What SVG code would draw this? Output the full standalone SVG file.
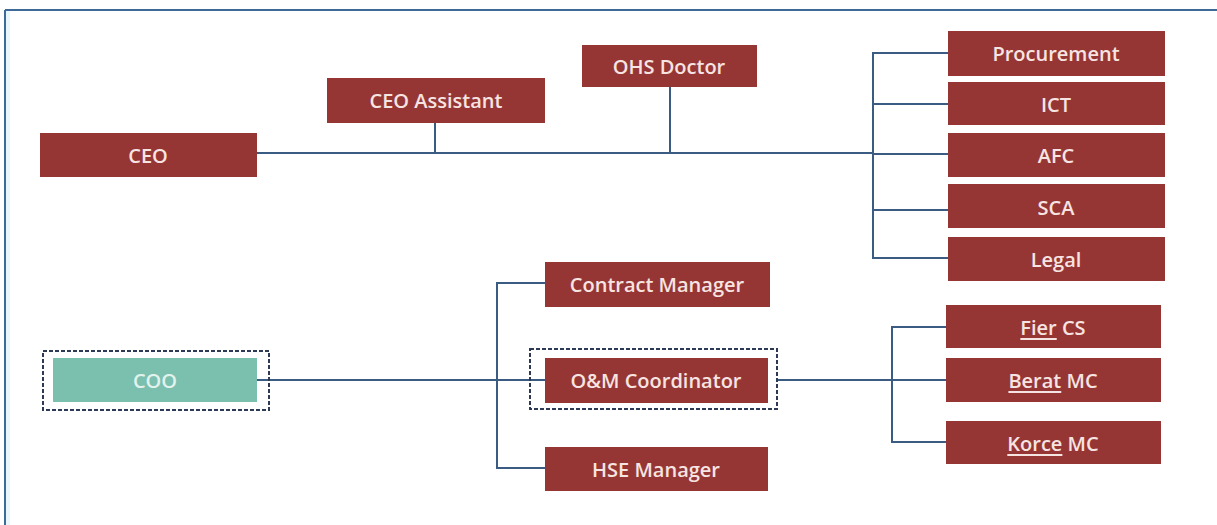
<svg xmlns="http://www.w3.org/2000/svg" width="1217" height="525" viewBox="0 0 1217 525">
<style>
.box{fill:#963634;}
.lbl{font-family:"Open Sans","Liberation Sans",sans-serif;font-size:20px;font-weight:600;fill:#f6e4e2;text-anchor:middle;dominant-baseline:central;}
.coo{fill:#7bbfae;}
.lblc{font-family:"Open Sans","Liberation Sans",sans-serif;font-size:20px;font-weight:600;fill:#e2f3ee;text-anchor:middle;dominant-baseline:central;}
.dash{fill:none;stroke:#2c3a55;stroke-width:2;stroke-dasharray:4 2;}
.conn{fill:none;stroke:#3b5c82;stroke-width:2;}
.u{text-decoration:underline;}
</style>
<rect x="0" y="0" width="1217" height="525" fill="#ffffff"/>
<g id="frame">
<line x1="5" y1="10" x2="1217" y2="10" stroke="#3d6a96" stroke-width="2"/>
<line x1="5" y1="10" x2="5" y2="525" stroke="#3d6a96" stroke-width="2"/>
<rect x="6" y="11" width="4" height="514" fill="#e6f8fc"/>
</g>
<g id="connectors">
<polyline class="conn" points="257,153 873,153"/>
<line class="conn" x1="435" y1="123" x2="435" y2="153"/>
<line class="conn" x1="670" y1="87" x2="670" y2="153"/>
<polyline class="conn" points="948,53 873,53 873,258 948,258"/>
<line class="conn" x1="873" y1="104" x2="948" y2="104"/>
<line class="conn" x1="873" y1="154" x2="948" y2="154"/>
<line class="conn" x1="873" y1="210" x2="948" y2="210"/>
<line class="conn" x1="257" y1="380" x2="545" y2="380"/>
<polyline class="conn" points="545,283 497,283 497,468 545,468"/>
<line class="conn" x1="777" y1="380" x2="946" y2="380"/>
<polyline class="conn" points="946,327 892,327 892,442 946,442"/>
</g>
<g id="ceo"><rect class="box" x="40" y="133" width="217" height="44"/><text class="lbl" x="148" y="155">CEO</text></g>
<g id="ceo-assistant"><rect class="box" x="327" y="78" width="218" height="45"/><text class="lbl" x="436" y="100">CEO Assistant</text></g>
<g id="ohs-doctor"><rect class="box" x="582" y="45" width="175" height="42"/><text class="lbl" x="669" y="66">OHS Doctor</text></g>
<g id="procurement"><rect class="box" x="948" y="31" width="217" height="45"/><text class="lbl" x="1056" y="53">Procurement</text></g>
<g id="ict"><rect class="box" x="948" y="82" width="217" height="43"/><text class="lbl" x="1056" y="104">ICT</text></g>
<g id="afc"><rect class="box" x="948" y="133" width="217" height="44"/><text class="lbl" x="1056" y="155">AFC</text></g>
<g id="sca"><rect class="box" x="948" y="184" width="217" height="44"/><text class="lbl" x="1056" y="207">SCA</text></g>
<g id="legal"><rect class="box" x="948" y="237" width="217" height="44"/><text class="lbl" x="1056" y="259">Legal</text></g>
<g id="coo"><rect class="dash" x="43" y="351" width="226" height="59"/><rect class="coo" x="53" y="358" width="204" height="44"/><text class="lblc" x="155" y="380">COO</text></g>
<g id="contract-manager"><rect class="box" x="545" y="262" width="225" height="45"/><text class="lbl" x="657" y="284">Contract Manager</text></g>
<g id="om-coordinator"><rect class="dash" x="530" y="349" width="247" height="60"/><rect class="box" x="545" y="358" width="223" height="45"/><text class="lbl" x="656" y="380">O&amp;M Coordinator</text></g>
<g id="hse-manager"><rect class="box" x="545" y="447" width="223" height="44"/><text class="lbl" x="656" y="469">HSE Manager</text></g>
<g id="fier-cs"><rect class="box" x="946" y="305" width="215" height="43"/><text class="lbl" x="1053" y="327"><tspan class="u">Fier</tspan> CS</text></g>
<g id="berat-mc"><rect class="box" x="946" y="358" width="215" height="44"/><text class="lbl" x="1053" y="380"><tspan class="u">Berat</tspan> MC</text></g>
<g id="korce-mc"><rect class="box" x="946" y="421" width="215" height="43"/><text class="lbl" x="1053" y="443"><tspan class="u">Korce</tspan> MC</text></g>
</svg>
